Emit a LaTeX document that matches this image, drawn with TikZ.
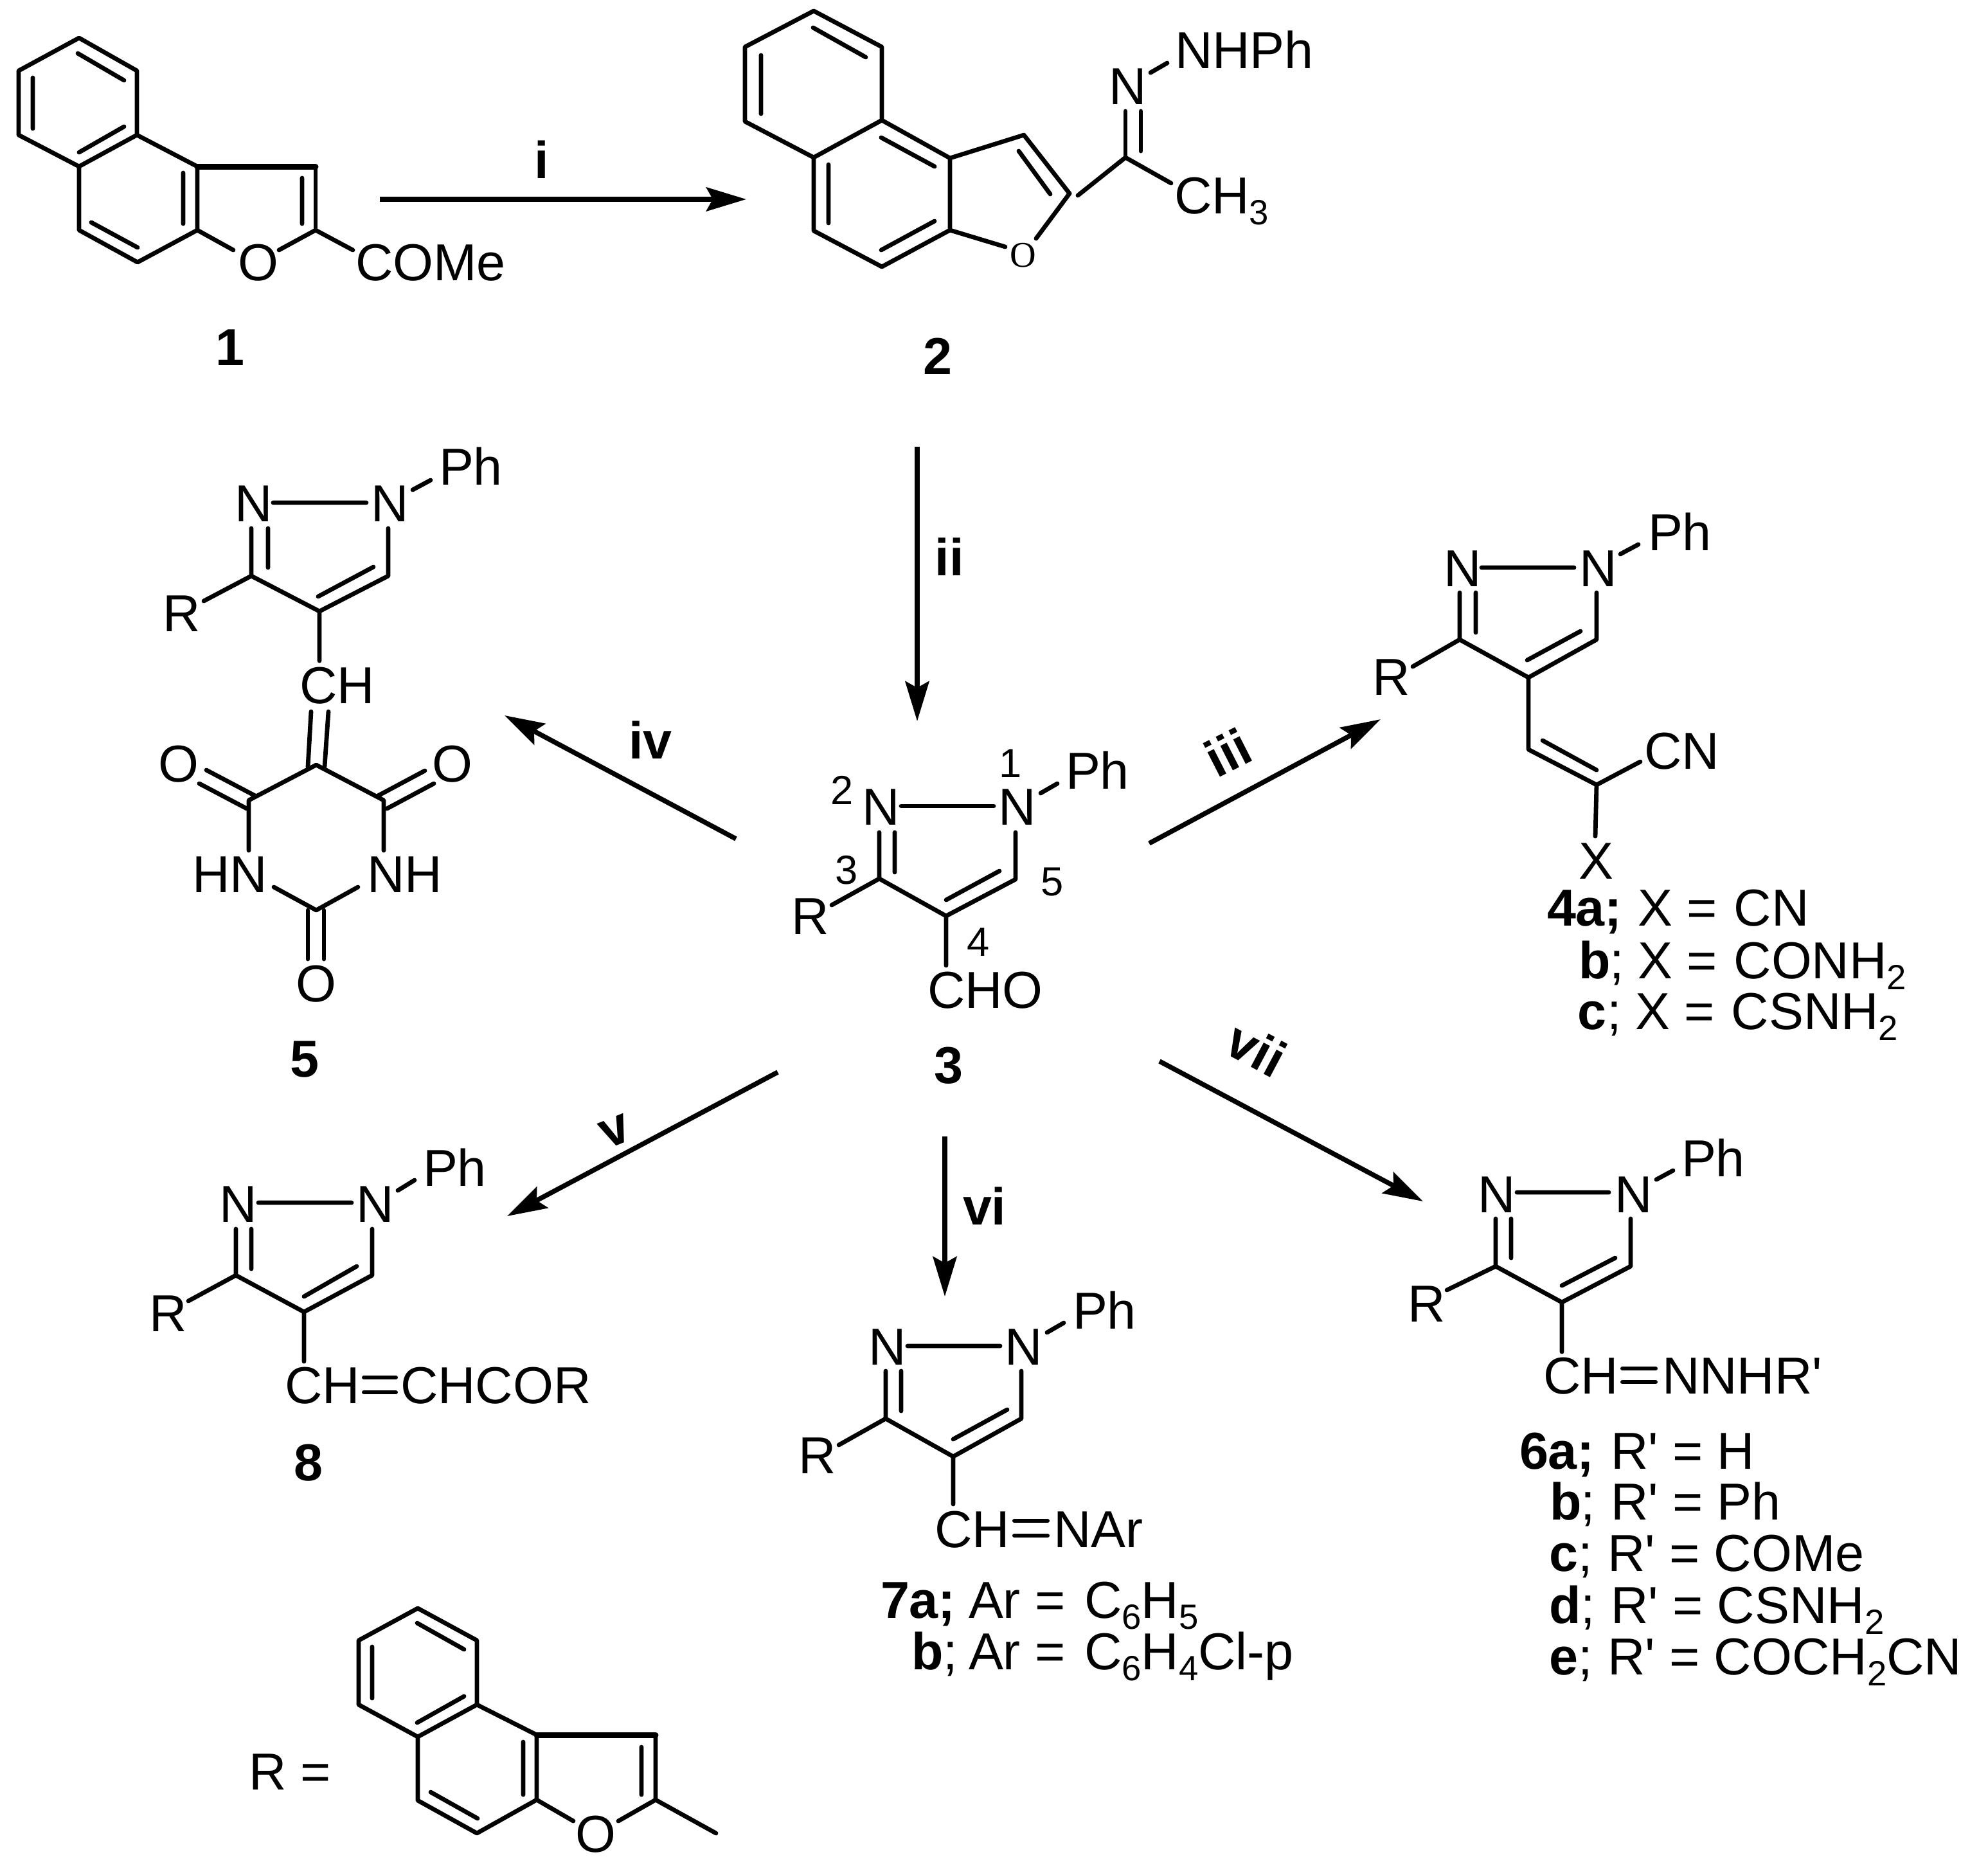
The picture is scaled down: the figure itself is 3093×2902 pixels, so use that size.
\documentclass[tikz,border=0pt]{standalone}
\usepackage{fontspec}
\setmainfont{Liberation Sans}
\newfontfamily\smallserif{Liberation Serif}
\newfontfamily\plainsans{Liberation Sans}
\usetikzlibrary{arrows.meta}
\newcommand\sbs[1]{\raisebox{-5pt}{\fontsize{15.5}{15.5}\selectfont #1}}
\newcommand\prm{{\plainsans'}}
\newcommand\tx[4]{\node[txt] (#1) at (#2,#3) {#4};}
\newcommand\tb[4]{\node[txt,font=\fontsize{23}{27}\selectfont\bfseries] (#1) at (#2,#3) {#4};}
\newcommand\tn[4]{\node[txt,font=\fontsize{18}{21}\selectfont] (#1) at (#2,#3) {#4};}
\tikzset{
  txt/.style={anchor=base west,inner sep=0pt,outer sep=0pt,xshift=-0.05cm,text=black,font=\fontsize{23}{27}\selectfont},
  rlabel/.style={anchor=center,inner sep=0pt,font=\fontsize{23}{27}\selectfont\bfseries},
  bond/.style={draw=black,line width=0.068cm,line cap=round,line join=round},
  fatbond/.style={draw=black,line width=0.09cm,line cap=round,line join=round},
  eqbar/.style={draw=black,line width=0.06cm,line cap=round},
  rxn/.style={draw=black,line width=0.075cm,-{Stealth[length=0.62cm,width=0.37cm,inset=0.1cm]}},
}
\begin{document}
\begin{tikzpicture}[x=0.01cm,y=-0.01cm]
\useasboundingbox (0,0) rectangle (3093,2902);

%% ---------- compound 1
\draw[bond] (123,59)--(213,110)--(213,210)--(123,259)--(29,210)--(29,110)--cycle;
\draw[bond] (213,210)--(307,259)--(307,358)--(214,408)--(123,358)--(123,259);
\draw[fatbond] (307,259)--(491,259);
\draw[bond] (491,259)--(491,358);
\draw[bond] (121,83)--(193,125) (51,121)--(51,200) (193,197)--(123,237) (285,269)--(285,348) (142,346)--(214,385) (470,277)--(470,348);
\draw[bond] (307,358)--(363,389) (491,358)--(434,389) (491,358)--(549,389);
\tx{o1}{375}{436}{O}
\tx{come1}{558}{436}{COMe}
\tb{lab1}{340}{568}{1}

%% ---------- arrow i
\coordinate (i0) at (591,310);
\coordinate (i1) at (1161,310);
\draw[rxn] (i0)--(i1);
\node[rlabel] (li) at (843,248) {i};

%% ---------- compound 2
\draw[bond] (1266,17)--(1372,73)--(1372,187)--(1266,245)--(1159,189)--(1159,73)--cycle;
\draw[bond] (1372,187)--(1478,246)--(1478,358)--(1372,415)--(1266,359)--(1266,245);
\draw[bond] (1478,246)--(1593,210)--(1664,301);
\draw[bond] (1265,43)--(1347,89) (1184,86)--(1184,177) (1371,214)--(1454,259) (1289,256)--(1289,347) (1454,344)--(1371,389) (1585,235)--(1634,302);
\draw[bond] (1478,358)--(1564,384) (1664,301)--(1612,371);
\draw[bond] (1677,304)--(1751,245)--(1822,285);
\draw[bond] (1751,245)--(1751,173) (1775,235)--(1775,173);
\draw[bond] (1790,113)--(1816,98);
\node[txt,font=\fontsize{16}{18}\selectfont\smallserif] (o2) at (1576,415) {O};
\tx{n2}{1730}{162}{N}
\tx{nhph}{1833}{106}{NHPh}
\tx{ch3}{1832}{332}{CH\sbs{3}}
\tb{lab2}{1441}{582}{2}

%% ---------- arrow ii
\coordinate (ii0) at (1427,695);
\coordinate (ii1) at (1427,1122);
\draw[rxn] (ii0)--(ii1);
\node[rlabel] (lii) at (1477,866) {ii};

%% ---------- compound 3
\draw[bond] (1402,1254)--(1546,1254);
\draw[bond] (1619,1234)--(1645,1219);
\draw[bond] (1368,1295)--(1368,1367)--(1472,1425)--(1580,1368)--(1580,1295);
\draw[bond] (1392,1295)--(1392,1357) (1472,1400)--(1555,1355);
\draw[bond] (1368,1367)--(1294,1408) (1472,1425)--(1472,1502);
\tx{n32}{1346}{1283}{N}
\tx{n31}{1558}{1283}{N}
\tx{ph3}{1663}{1227}{Ph}
\tx{r3}{1236}{1453}{R}
\tx{cho}{1448}{1568}{CHO}
\tn{num1}{1559}{1209}{1}
\tn{num2}{1297}{1251}{2}
\tn{num3}{1304}{1375}{3}
\tn{num4}{1509}{1487}{4}
\tn{num5}{1624}{1393}{5}
\tb{lab3}{1458}{1685}{3}

%% ---------- arrows around 3
\coordinate (iii0) at (1788,1312);
\coordinate (iii1) at (2148,1119);
\draw[rxn] (iii0)--(iii1);
\node[rlabel,rotate=27] (liii) at (1910,1170) {iii};
\coordinate (iv0) at (1145,1305);
\coordinate (iv1) at (785,1113);
\draw[rxn] (iv0)--(iv1);
\node[txt,font=\fontsize{23}{27}\selectfont\bfseries] (liv) at (983,1180) {iv};
\coordinate (v0) at (1210,1668);
\coordinate (v1) at (789,1892);
\draw[rxn] (v0)--(v1);
\node[rlabel,rotate=22] (lv) at (957,1760) {v};
\coordinate (vi0) at (1470,1768);
\coordinate (vi1) at (1470,2017);
\draw[rxn] (vi0)--(vi1);
\tb{lvi}{1503}{1905}{vi}
\coordinate (vii0) at (1804,1651);
\coordinate (vii1) at (2214,1869);
\draw[rxn] (vii0)--(vii1);
\node[rlabel,rotate=-28] (lvii) at (1955,1632) {vii};

%% ---------- compound 4
\draw[bond] (2305,883)--(2449,883) (2521,862)--(2549,847);
\draw[bond] (2271,922)--(2271,995)--(2378,1054)--(2484,995)--(2484,922);
\draw[bond] (2296,922)--(2296,984) (2376,1027)--(2459,982);
\draw[bond] (2271,995)--(2198,1037);
\draw[bond] (2378,1054)--(2378,1166)--(2484,1221)--(2552,1185);
\draw[bond] (2400,1152)--(2484,1198) (2484,1221)--(2482,1301);
\tx{n42}{2251}{912}{N}
\tx{n41}{2462}{912}{N}
\tx{ph4}{2569}{856}{Ph}
\tx{r4}{2140}{1081}{R}
\tx{cn4}{2563}{1196}{CN}
\tx{x4}{2461}{1367}{X}
\tb{l4a}{2412}{1440}{4a;}
\tx{t4a}{2553}{1440}{X = \hspace{1pt}CN}
\tb{l4b}{2461}{1522}{b}
\tx{s4b}{2509}{1522}{;}
\tx{t4b}{2553}{1522}{X = \hspace{1pt}CONH\sbs{2}}
\tb{l4c}{2459}{1601}{c}
\tx{s4c}{2505}{1601}{;}
\tx{t4c}{2549}{1601}{X = \hspace{1pt}CSNH\sbs{2}}

%% ---------- compound 5
\draw[bond] (425,782)--(570,782) (642,762)--(670,747);
\draw[bond] (391,822)--(391,896)--(497,951)--(604,896)--(604,822);
\draw[bond] (417,822)--(417,883) (495,928)--(581,882);
\draw[bond] (391,896)--(317,935) (497,951)--(497,1028);
\draw[bond] (484,1107)--(479,1193) (511,1107)--(505,1193);
\draw[bond] (387,1323)--(387,1245)--(492,1190)--(597,1245)--(597,1323);
\draw[bond] (426,1380)--(492,1416)--(557,1380);
\draw[bond] (310,1219)--(384,1258) (321,1198)--(397,1238);
\draw[bond] (675,1219)--(602,1258) (661,1199)--(588,1238);
\draw[bond] (479,1416)--(479,1492) (504,1416)--(504,1492);
\tx{n52}{371}{811}{N}
\tx{n51}{582}{811}{N}
\tx{ph5}{688}{754}{Ph}
\tx{r5}{259}{982}{R}
\tx{ch5}{471}{1094}{CH}
\tx{o5a}{252}{1216}{O}
\tx{o5b}{677}{1216}{O}
\tx{hn5}{304}{1388}{HN}
\tx{nh5}{576}{1388}{NH}
\tx{o5c}{465}{1558}{O}
\tb{lab5}{456}{1675}{5}

%% ---------- compound 8
\draw[bond] (402,1871)--(547,1871) (619,1852)--(645,1836);
\draw[bond] (367,1912)--(367,1984)--(473,2041)--(579,1984)--(579,1912);
\draw[bond] (391,1912)--(391,1974) (473,2017)--(555,1970);
\draw[bond] (367,1984)--(293,2024) (473,2041)--(473,2118);
\draw[eqbar] (566,2143)--(616,2143) (566,2166)--(616,2166);
\tx{n82}{346}{1901}{N}
\tx{n81}{559}{1901}{N}
\tx{ph8}{663}{1845}{Ph}
\tx{r8}{237}{2071}{R}
\tx{ch8}{448}{2183}{CH}
\tx{chcor}{628}{2183}{CHCOR}
\tb{lab8}{462}{2303}{8}

%% ---------- compound 7
\draw[bond] (1412,2094)--(1556,2094) (1629,2073)--(1655,2058);
\draw[bond] (1378,2133)--(1378,2207)--(1483,2266)--(1589,2207)--(1589,2133);
\draw[bond] (1402,2133)--(1402,2195) (1483,2239)--(1567,2193);
\draw[bond] (1378,2207)--(1305,2248) (1483,2266)--(1483,2340);
\draw[eqbar] (1578,2366)--(1630,2366) (1578,2389)--(1630,2389);
\tx{n72}{1356}{2123}{N}
\tx{n71}{1568}{2123}{N}
\tx{ph7}{1674}{2067}{Ph}
\tx{r7}{1247}{2292}{R}
\tx{ch7}{1459}{2407}{CH}
\tx{nar}{1644}{2407}{NAr}
\tb{l7a}{1375}{2517}{7a;}
\tx{t7a}{1512}{2517}{Ar = \hspace{2pt}C\sbs{6}H\sbs{5}}
\tb{l7b}{1423}{2597}{b}
\tx{s7b}{1472}{2597}{;}
\tx{t7b}{1512}{2597}{Ar = \hspace{2pt}C\sbs{6}H\sbs{4}Cl-p}

%% ---------- compound 6
\draw[bond] (2360,1855)--(2503,1855) (2577,1835)--(2603,1821);
\draw[bond] (2327,1896)--(2327,1970)--(2430,2026)--(2537,1970)--(2537,1896);
\draw[bond] (2351,1896)--(2351,1957) (2430,2000)--(2513,1957);
\draw[bond] (2327,1970)--(2251,2007) (2430,2026)--(2430,2103);
\draw[eqbar] (2524,2129)--(2576,2129) (2524,2150)--(2576,2150);
\tx{n62}{2304}{1886}{N}
\tx{n61}{2517}{1886}{N}
\tx{ph6}{2621}{1830}{Ph}
\tx{r6}{2195}{2056}{R}
\tx{ch6}{2406}{2168}{CH}
\tx{nnhr}{2591}{2168}{NNHR\prm}
\tb{l6a}{2369}{2285}{6a;}
\tx{t6a}{2511}{2285}{R\prm{} = H}
\tb{l6b}{2416}{2364}{b}
\tx{s6b}{2464}{2364}{;}
\tx{t6b}{2511}{2364}{R\prm{} = Ph}
\tb{l6c}{2415}{2444}{c}
\tx{s6c}{2460}{2444}{;}
\tx{t6c}{2506}{2444}{R\prm{} = COMe}
\tb{l6d}{2415}{2525}{d}
\tx{s6d}{2464}{2525}{;}
\tx{t6d}{2511}{2525}{R\prm{} = CSNH\sbs{2}}
\tb{l6e}{2415}{2605}{e}
\tx{s6e}{2460}{2605}{;}
\tx{t6e}{2506}{2605}{R\prm{} = COCH\sbs{2}CN}

%% ---------- R = fragment
\draw[bond] (650,2502)--(742,2552)--(742,2652)--(650,2702)--(558,2652)--(558,2552)--cycle;
\draw[bond] (742,2652)--(835,2699)--(835,2800)--(742,2852)--(650,2801)--(650,2702);
\draw[fatbond] (835,2699)--(1020,2699);
\draw[bond] (1020,2699)--(1020,2800)--(1114,2852);
\draw[bond] (649,2525)--(722,2566) (579,2562)--(579,2642) (722,2639)--(649,2680) (814,2710)--(814,2792) (670,2788)--(743,2829) (998,2718)--(998,2792);
\draw[bond] (835,2800)--(892,2833) (1020,2800)--(962,2833);
\tx{or}{900}{2881}{O}
\tx{req}{392}{2784}{R =}
\end{tikzpicture}
\end{document}
